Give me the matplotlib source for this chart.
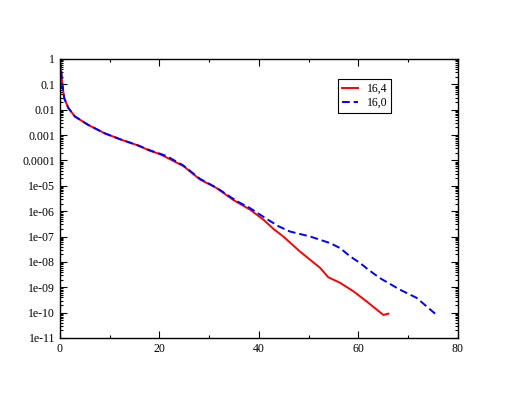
import matplotlib
matplotlib.use("Agg")
import matplotlib.pyplot as plt
from matplotlib.ticker import FixedLocator, FixedFormatter, LogLocator, NullFormatter, MultipleLocator

plt.rcParams['font.family'] = ['Liberation Serif', 'DejaVu Serif']

red_x = [0, 0.2, 0.46, 0.86, 1.67, 3.0, 5.7, 9.0, 12.4, 15.7, 18.1, 20, 22.1, 24.8,
         28.1, 31.5, 34.8, 38.2, 40.9, 42.9, 44.9, 48.2, 52.3, 53.9, 56.3, 59, 61.6, 65.0, 66.0]
red_y = [0.95, 0.4, 0.1, 0.028, 0.0117, 0.0054, 0.0025, 0.00117, 6.5e-4, 3.9e-4, 2.4e-4,
         1.8e-4, 1.12e-4, 6.0e-5, 1.8e-5, 8.1e-6, 2.8e-6, 1.15e-6, 4.6e-7, 2.0e-7, 1.0e-7,
         2.6e-8, 5.8e-9, 2.5e-9, 1.5e-9, 6.9e-10, 2.8e-10, 8.1e-11, 9.1e-11]

blue_x = [0, 0.2, 0.46, 0.86, 1.67, 3.0, 5.7, 9.0, 12.4, 15.7, 18.1, 21.4, 23, 24.8, 28.1,
          31.5, 35.5, 38.2, 41.5, 44, 46.2, 50.3, 54.3, 56.3, 58.3, 60.3, 62, 64.3, 68.3, 71.7, 75.4]
blue_y = [0.95, 0.4, 0.1, 0.028, 0.0117, 0.0054, 0.0025, 0.00117, 6.5e-4, 3.9e-4, 2.5e-4,
          1.5e-4, 1.0e-4, 6.3e-5, 1.9e-5, 8.3e-6, 2.5e-6, 1.32e-6, 5.0e-7, 2.5e-7, 1.58e-7,
          1.0e-7, 5.5e-8, 3.5e-8, 1.66e-8, 9.1e-9, 4.9e-9, 2.3e-9, 8.1e-10, 3.8e-10, 9.1e-11]

labels = ["16,4", "16,0"]
y_ticks = [1, 0.1, 0.01, 0.001, 0.0001, 1e-05, 1e-06, 1e-07, 1e-08, 1e-09, 1e-10, 1e-11]
y_ticklabels = ["1", "0.1", "0.01", "0.001", "0.0001", "1e-05", "1e-06", "1e-07",
                "1e-08", "1e-09", "1e-10", "1e-11"]

fig = plt.figure(figsize=(5.15, 3.98), dpi=100)
ax = fig.add_axes([0.1165, 0.1508, 0.7728, 0.701])

ax.plot(red_x, red_y, color='#ff0000', lw=1.4, label=labels[0])
ax.plot(blue_x, blue_y, color='#0000ff', lw=1.4, linestyle=(0, (4, 2)), label=labels[1])

ax.set_yscale('log')
ax.set_xlim(0, 80)
ax.set_ylim(1e-11, 1)

ax.yaxis.set_major_locator(FixedLocator(y_ticks))
ax.yaxis.set_major_formatter(FixedFormatter(y_ticklabels))
ax.yaxis.set_minor_locator(LogLocator(base=10, subs=[2, 3, 4, 5, 6, 7, 8, 9], numticks=20))
ax.yaxis.set_minor_formatter(NullFormatter())
ax.xaxis.set_major_locator(MultipleLocator(20))
ax.xaxis.set_minor_locator(MultipleLocator(10))

ax.tick_params(which='both', direction='in', top=True, right=True, labelsize=8.5, width=0.8)
ax.tick_params(which='major', length=5)
ax.tick_params(which='minor', length=2.5)
for s in ax.spines.values():
    s.set_linewidth(1.0)

leg = ax.legend(loc='upper left', bbox_to_anchor=(0.698, 0.93), fontsize=8.5,
                fancybox=False, edgecolor='black', framealpha=1, handlelength=1.4,
                borderpad=0.35, labelspacing=0.2, handletextpad=0.7, borderaxespad=0)
leg.get_frame().set_linewidth(0.8)

fig.savefig("out.png", dpi=100)
